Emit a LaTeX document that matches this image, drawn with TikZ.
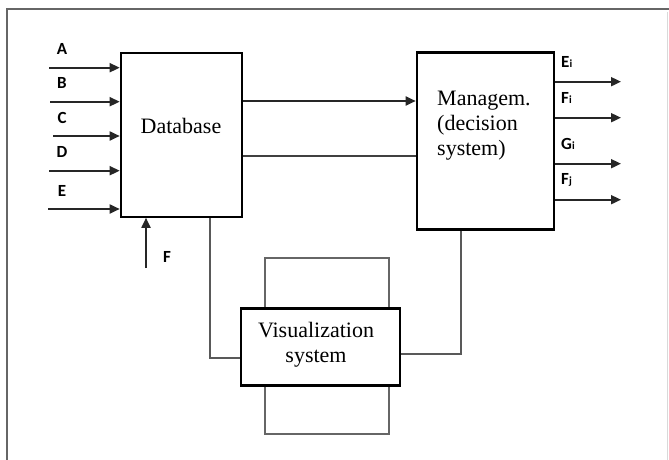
\documentclass[tikz,border=0pt]{standalone}
\usepackage{fontspec}
\setmainfont{Liberation Serif}
\newfontfamily\lblfont{Carlito}
\usetikzlibrary{arrows.meta}
\begin{document}
\begin{tikzpicture}[x=1pt,y=-1pt,
  box/.style={draw=black,line width=2.2pt,inner sep=0pt},
  inarrow/.style={draw=black!85,line width=1.8pt,-{Triangle[length=10pt,width=9pt]}},
  link/.style={draw=black!65,line width=2pt},
  backrect/.style={draw=black!60,line width=2.2pt},
  lbl/.style={font=\lblfont\bfseries\fontsize{17}{17}\selectfont,inner sep=0pt},
  boxtext/.style={font=\fontsize{22}{25}\selectfont,inner sep=0pt}]
\useasboundingbox (0,0) rectangle (669,460);
\fill[white] (0,0) rectangle (669,460);
% frame
\draw[black!60,line width=2.4pt] (7,470) -- (7,9) -- (669,9);
\draw[black!15,line width=0.8pt] (667,12) -- (667,460);
% back rectangle of visualization
\draw[backrect] (265,258) rectangle (389,434);
% boxes
\node[box,minimum width=121pt,minimum height=164pt] (db) at (181.3,134.7) {};
\node[box,minimum width=137pt,minimum height=177pt] (mg) at (485.3,141) {};
\node[box,fill=white,minimum width=159pt,minimum height=77pt] (vs) at (320.7,347) {};
\node[boxtext] (dbt) at (181,126) {Database};
\node[boxtext,align=left,anchor=west] (mgt) at (437,126) {Managem.\\(decision\\system)};
\node[boxtext,align=center] (vst) at (316,345) {Visualization\\system};
% inputs
\foreach \n/\y/\xs in {A/67.7/49,B/101.7/50,C/136/53,D/170.7/49,E/209/48}{
  \coordinate (in\n) at (\xs,\y);
  \draw[inarrow] (in\n) -- (db.west |- in\n);
  \node[lbl] (l\n) at (62,\y-18.5) {\n};
}
\coordinate (inF) at (146,268);
\draw[inarrow] (inF) -- (db.south -| inF);
\node[lbl] (lF) at (167,256.7) {F};
% db <-> management
\draw[inarrow] (db.east |- 0,101) -- (mg.west |- 0,101);
\draw[link,draw=black!75] (mg.west |- 0,155.7) -- (db.east |- 0,155.7);
% outputs
\foreach \n/\y/\t in {o1/81.7/{E{\fontsize{11}{11}\selectfont i}},o2/117.7/{F{\fontsize{11}{11}\selectfont i}},o3/163.7/{G{\fontsize{11}{11}\selectfont i}},o4/199.7/{F{\fontsize{11}{11}\selectfont j}}}{
  \coordinate (\n) at (621,\y);
  \draw[inarrow] (mg.east |- \n) -- (\n);
  \node[lbl,anchor=west] (l\n) at (561,\y-20) {\t};
}
% links to visualization
\draw[link] (db.south -| 210,0) |- (vs.west |- 0,357.7);
\draw[link] (mg.south -| 460.5,0) |- (vs.east |- 0,354.3);
\end{tikzpicture}
\end{document}
